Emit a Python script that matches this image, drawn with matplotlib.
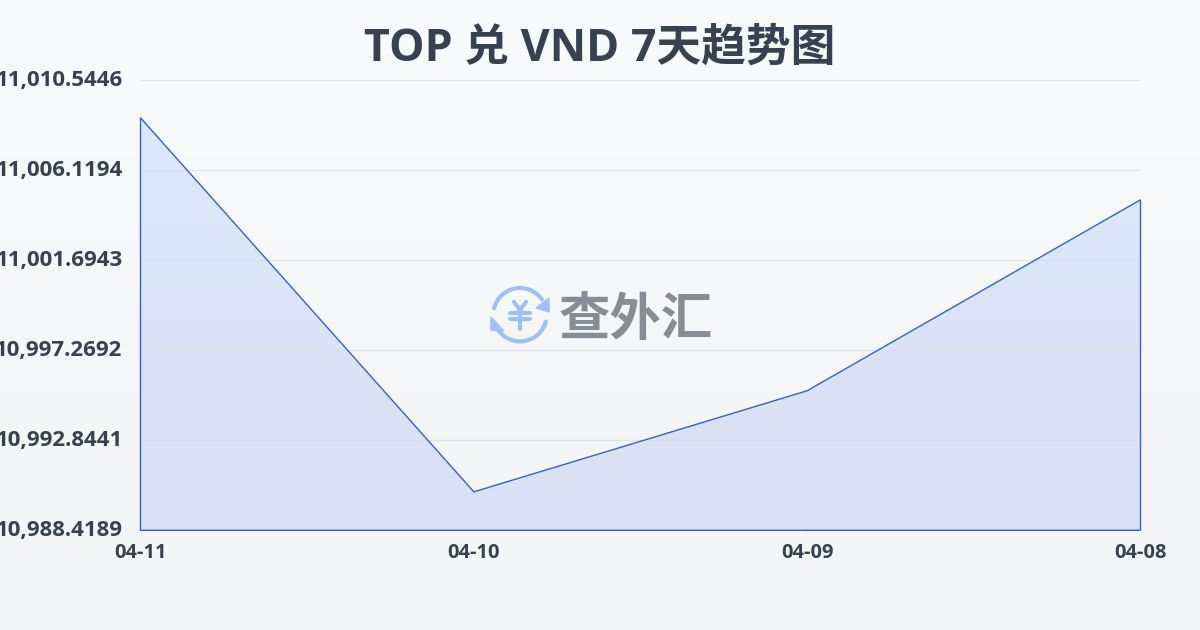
import numpy as np
import matplotlib
matplotlib.use('Agg')
import matplotlib.pyplot as plt
from matplotlib.patches import Arc, Polygon

plt.rcParams['font.family'] = ['Open Sans', 'Noto Sans CJK SC', 'DejaVu Sans']

dates = ['04-11', '04-10', '04-09', '04-08']
rates = [11008.70, 10990.31, 10995.28, 11004.67]
y_ticks = [10988.4189, 10992.8441, 10997.2692, 11001.6943, 11006.1194, 11010.5446]
y_labels = ['10,988.4189', '10,992.8441', '10,997.2692', '11,001.6943', '11,006.1194', '11,010.5446']

W, H = 1200, 630
text_col = '#374151'
line_col = '#3563c4'
x = np.arange(len(dates))

fig = plt.figure(figsize=(W / 100, H / 100), dpi=100)

# page background, light vertical gradient
bg = fig.add_axes([0, 0, 1, 1], zorder=0)
bg.imshow(np.array([[248, 249, 251], [243, 245, 247]], dtype=np.uint8).reshape(2, 1, 3),
          aspect='auto', extent=[0, 1, 0, 1], interpolation='bilinear')
bg.axis('off')

ax = fig.add_axes([140.5 / W, 1 - 530.3 / H, 1000 / W, 450 / H], zorder=1)
ax.patch.set_alpha(0)

# area with a soft gradient, clipped to the series shape
verts = [(x[0], y_ticks[0])] + list(zip(x, rates)) + [(x[-1], y_ticks[0])]
area = Polygon(verts, closed=True, facecolor='none', edgecolor='none', transform=ax.transData)
ax.add_patch(area)
grad = ax.imshow(np.array([[219, 231, 248], [217, 225, 244]], dtype=np.uint8).reshape(2, 1, 3),
                 aspect='auto', extent=[x[0], x[-1], y_ticks[0], rates[0]],
                 interpolation='bilinear', zorder=1)
grad.set_clip_path(area)
ax.set_xlim(x[0], x[-1])
ax.set_ylim(y_ticks[0], y_ticks[-1])

ax.add_patch(Polygon(verts, closed=True, facecolor='none', edgecolor=line_col, lw=1.0,
                     zorder=3, clip_on=False, joinstyle='miter'))

ax.set_yticks(y_ticks)
ax.set_yticklabels(y_labels)
ax.set_xticks(x)
ax.set_xticklabels(dates)
ax.grid(axis='y', color='#d9dde3', lw=0.8, alpha=0.75, zorder=2)
ax.set_axisbelow(False)
for s in ax.spines.values():
    s.set_visible(False)
ax.tick_params(axis='y', length=0, pad=13, labelsize=16, labelcolor=text_col)
ax.tick_params(axis='x', length=5, width=0.7, color='#eceef0', pad=4, labelsize=14.4, labelcolor=text_col)
for t in ax.get_yticklabels() + ax.get_xticklabels():
    t.set_fontweight('bold')
for t in ax.get_yticklabels():
    t.set_va('center')

fig.text(600 / W, 1 - 44 / H, 'TOP 兑 VND 7天趋势图', ha='center', va='center_baseline',
         fontsize=32.2, fontweight='bold', color=text_col)

# watermark logo, drawn in pixel coordinates
wm = fig.add_axes([0, 0, 1, 1], zorder=2)
wm.set_xlim(0, W)
wm.set_ylim(H, 0)
wm.axis('off')
logo = '#9dc0f5'
cx, cy, d = 520, 314.7, 53.4
wm.add_patch(Arc((cx, cy), d, d, theta1=194, theta2=325, color=logo, lw=3, capstyle='round'))
wm.add_patch(Arc((cx, cy), d, d, theta1=15, theta2=145, color=logo, lw=3, capstyle='round'))
wm.add_patch(Polygon([(549, 298), (549, 312), (536, 308)], closed=True, fc=logo, ec=logo, lw=1))
wm.add_patch(Polygon([(491, 317), (491, 330), (504, 331)], closed=True, fc=logo, ec=logo, lw=1))
for seg in [((514, 302), (520, 310)), ((526, 302), (520, 310)), ((520, 310), (520, 329)),
            ((510, 312.7), (530, 312.7)), ((510, 319.3), (530, 319.3))]:
    wm.plot(*zip(*seg), color=logo, lw=3, solid_capstyle='round')
wm.text(636, 319.5, '查外汇', ha='center', va='center', fontsize=37, fontweight='bold',
        family=['Noto Sans CJK SC', 'DejaVu Sans'], color='#888c95')

fig.savefig('out.png', dpi=100)
